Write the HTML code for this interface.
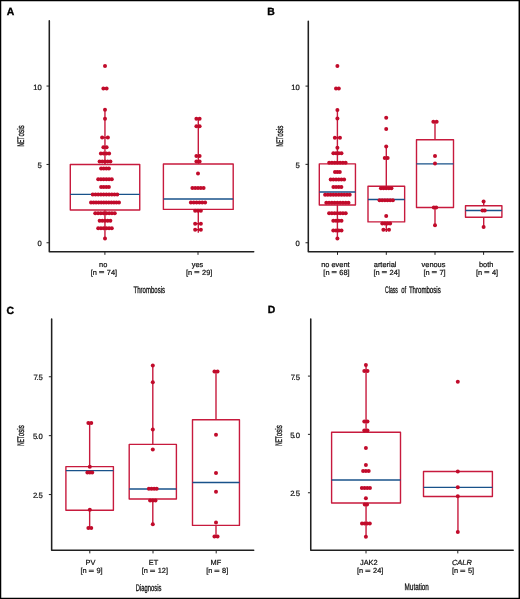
<!DOCTYPE html>
<html><head><meta charset="utf-8"><title>NETosis</title>
<style>
html,body{margin:0;padding:0;background:#fff;}
body{width:520px;height:599px;overflow:hidden;}
svg{display:block;will-change:transform;text-rendering:geometricPrecision;}
text{font-family:"Liberation Sans",sans-serif;fill:#111;}
.tl,.yl{stroke:#111;stroke-width:0.22px;}
.tl{font-size:7.4px;}
.nl{word-spacing:0.2px;}
.eq{font-weight:bold;}
.yl{font-size:7.7px;}
.tt{font-size:9.6px;stroke:#111;stroke-width:0.32px;}
.pl{font-size:10.4px;font-weight:bold;fill:#000;stroke:#000;stroke-width:0.35px;}
.ax{stroke:#202020;stroke-width:1.55;stroke-linejoin:round;stroke-linecap:round;}
.tk{stroke:#222;stroke-width:1;}
.bx{stroke:#c71a3d;stroke-width:1.4;stroke-linejoin:round;}
.md{stroke:#18528a;stroke-width:1.35;}
</style></head>
<body>
<svg width="520" height="599" viewBox="0 0 520 599">
<rect x="0" y="0" width="520" height="599" fill="#fff"/>
<text x="6.7" y="15.35" class="pl">A</text>
<path d="M49.3 20.8V251.65H253.7" class="ax" fill="none"/>
<line x1="46.5" y1="242.75" x2="49.3" y2="242.75" class="tk"/>
<line x1="46.5" y1="164.45" x2="49.3" y2="164.45" class="tk"/>
<line x1="46.5" y1="86.05" x2="49.3" y2="86.05" class="tk"/>
<line x1="104.9" y1="251.65" x2="104.9" y2="254.85" class="tk"/>
<line x1="198" y1="251.65" x2="198" y2="254.85" class="tk"/>
<text x="41.8" y="246.35" text-anchor="end" class="yl">0</text>
<text x="41.8" y="168.05" text-anchor="end" class="yl">5</text>
<text x="41.8" y="89.65" text-anchor="end" class="yl">10</text>
<text x="103.15" y="266.6" text-anchor="middle" class="tl">no</text>
<text x="90.82" y="274.55" class="tl">[n</text>
<rect x="99.09" y="271.05" width="5.0" height="0.85" fill="#2a2a2a"/><rect x="99.09" y="272.3" width="5.0" height="0.85" fill="#2a2a2a"/>
<text x="106.79" y="274.55" class="tl">74]</text>
<text x="197.5" y="266.6" text-anchor="middle" class="tl">yes</text>
<text x="186.07" y="274.55" class="tl">[n</text>
<rect x="194.34" y="271.05" width="5.0" height="0.85" fill="#2a2a2a"/><rect x="194.34" y="272.3" width="5.0" height="0.85" fill="#2a2a2a"/>
<text x="202.04" y="274.55" class="tl">29]</text>
<text x="133.6" y="293" textLength="31.4" lengthAdjust="spacingAndGlyphs" class="tt">Thrombosis</text>
<g transform="translate(23.6,146.5) rotate(-90)"><text x="0" y="0" textLength="9.86" lengthAdjust="spacingAndGlyphs" class="tt">NET</text><text x="9.96" y="0" textLength="11.24" lengthAdjust="spacingAndGlyphs" class="tt">osis</text></g>
<line x1="104.95" y1="109.8" x2="104.95" y2="164.45" class="bx"/>
<line x1="104.95" y1="210.05" x2="104.95" y2="238.4" class="bx"/>
<rect x="70.3" y="164.45" width="69.45" height="45.6" class="bx" fill="none"/>
<line x1="70.3" y1="194.4" x2="139.75" y2="194.4" class="md"/>
<line x1="198.3" y1="118.7" x2="198.3" y2="164" class="bx"/>
<line x1="198.3" y1="209.4" x2="198.3" y2="232.8" class="bx"/>
<rect x="163.4" y="164" width="69.8" height="45.4" class="bx" fill="none"/>
<line x1="163.4" y1="199" x2="233.2" y2="199" class="md"/>
<text x="267.2" y="15.3" class="pl">B</text>
<path d="M308.3 21.2V251.65H513" class="ax" fill="none"/>
<line x1="305.5" y1="242.75" x2="308.3" y2="242.75" class="tk"/>
<line x1="305.5" y1="164.35" x2="308.3" y2="164.35" class="tk"/>
<line x1="305.5" y1="86.1" x2="308.3" y2="86.1" class="tk"/>
<line x1="337.5" y1="251.65" x2="337.5" y2="254.85" class="tk"/>
<line x1="386.3" y1="251.65" x2="386.3" y2="254.85" class="tk"/>
<line x1="435" y1="251.65" x2="435" y2="254.85" class="tk"/>
<line x1="483.6" y1="251.65" x2="483.6" y2="254.85" class="tk"/>
<text x="299.8" y="246.35" text-anchor="end" class="yl">0</text>
<text x="299.8" y="167.95" text-anchor="end" class="yl">5</text>
<text x="299.8" y="89.7" text-anchor="end" class="yl">10</text>
<text x="335.4" y="266.6" text-anchor="middle" class="tl">no event</text>
<text x="323.37" y="274.55" class="tl">[n</text>
<rect x="331.64" y="271.05" width="5.0" height="0.85" fill="#2a2a2a"/><rect x="331.64" y="272.3" width="5.0" height="0.85" fill="#2a2a2a"/>
<text x="339.34" y="274.55" class="tl">68]</text>
<text x="385.1" y="266.6" text-anchor="middle" class="tl">arterial</text>
<text x="373.57" y="274.55" class="tl">[n</text>
<rect x="381.84" y="271.05" width="5.0" height="0.85" fill="#2a2a2a"/><rect x="381.84" y="272.3" width="5.0" height="0.85" fill="#2a2a2a"/>
<text x="389.54" y="274.55" class="tl">24]</text>
<text x="433.5" y="266.6" text-anchor="middle" class="tl">venous</text>
<text x="423.53" y="274.55" class="tl">[n</text>
<rect x="431.8" y="271.05" width="5.0" height="0.85" fill="#2a2a2a"/><rect x="431.8" y="272.3" width="5.0" height="0.85" fill="#2a2a2a"/>
<text x="439.5" y="274.55" class="tl">7]</text>
<text x="486.2" y="266.6" text-anchor="middle" class="tl">both</text>
<text x="476.03" y="274.55" class="tl">[n</text>
<rect x="484.3" y="271.05" width="5.0" height="0.85" fill="#2a2a2a"/><rect x="484.3" y="272.3" width="5.0" height="0.85" fill="#2a2a2a"/>
<text x="492" y="274.55" class="tl">4]</text>
<text x="385.1" y="293" textLength="12.8" lengthAdjust="spacingAndGlyphs" class="tt">Class</text>
<text x="401.2" y="293" textLength="4.9" lengthAdjust="spacingAndGlyphs" class="tt">of</text>
<text x="408.9" y="293" textLength="31.8" lengthAdjust="spacingAndGlyphs" class="tt">Thrombosis</text>
<g transform="translate(282.6,146.6) rotate(-90)"><text x="0" y="0" textLength="9.77" lengthAdjust="spacingAndGlyphs" class="tt">NET</text><text x="9.87" y="0" textLength="11.13" lengthAdjust="spacingAndGlyphs" class="tt">osis</text></g>
<line x1="337.4" y1="109.9" x2="337.4" y2="163.85" class="bx"/>
<line x1="337.4" y1="204.95" x2="337.4" y2="238.5" class="bx"/>
<rect x="319.3" y="163.85" width="36.15" height="41.1" class="bx" fill="none"/>
<line x1="319.3" y1="191.95" x2="355.45" y2="191.95" class="md"/>
<line x1="386.3" y1="146.4" x2="386.3" y2="186.2" class="bx"/>
<line x1="386.3" y1="221.9" x2="386.3" y2="232" class="bx"/>
<rect x="368" y="186.2" width="36.65" height="35.7" class="bx" fill="none"/>
<line x1="368" y1="199.5" x2="404.65" y2="199.5" class="md"/>
<line x1="435" y1="121.7" x2="435" y2="139.8" class="bx"/>
<line x1="435" y1="207.5" x2="435" y2="225.2" class="bx"/>
<rect x="416.5" y="139.8" width="37" height="67.7" class="bx" fill="none"/>
<line x1="416.5" y1="163.9" x2="453.5" y2="163.9" class="md"/>
<line x1="483.7" y1="201.5" x2="483.7" y2="205.8" class="bx"/>
<line x1="483.7" y1="217.2" x2="483.7" y2="227" class="bx"/>
<rect x="465.5" y="205.8" width="36.4" height="11.4" class="bx" fill="none"/>
<line x1="465.5" y1="210.5" x2="501.9" y2="210.5" class="md"/>
<text x="6.6" y="313.6" class="pl">C</text>
<path d="M51.65 319V550.2H253.7" class="ax" fill="none"/>
<line x1="48.85" y1="376.75" x2="51.65" y2="376.75" class="tk"/>
<line x1="48.85" y1="435.65" x2="51.65" y2="435.65" class="tk"/>
<line x1="48.85" y1="494.55" x2="51.65" y2="494.55" class="tk"/>
<line x1="89.8" y1="550.2" x2="89.8" y2="553.4" class="tk"/>
<line x1="153" y1="550.2" x2="153" y2="553.4" class="tk"/>
<line x1="216.2" y1="550.2" x2="216.2" y2="553.4" class="tk"/>
<text x="42.8" y="380.35" text-anchor="end" class="yl">7<tspan dx="-1.4">.</tspan>5</text>
<text x="42.8" y="439.25" text-anchor="end" class="yl">5<tspan dx="-1.0">.</tspan>0</text>
<text x="42.8" y="498.15" text-anchor="end" class="yl">2<tspan dx="-1.0">.</tspan>5</text>
<text x="90.5" y="565.3" text-anchor="middle" class="tl">PV</text>
<text x="80.53" y="573.25" class="tl">[n</text>
<rect x="88.8" y="569.75" width="5.0" height="0.85" fill="#2a2a2a"/><rect x="88.8" y="571" width="5.0" height="0.85" fill="#2a2a2a"/>
<text x="96.5" y="573.25" class="tl">9]</text>
<text x="153.6" y="565.3" text-anchor="middle" class="tl">ET</text>
<text x="141.77" y="573.25" class="tl">[n</text>
<rect x="150.04" y="569.75" width="5.0" height="0.85" fill="#2a2a2a"/><rect x="150.04" y="571" width="5.0" height="0.85" fill="#2a2a2a"/>
<text x="157.74" y="573.25" class="tl">12]</text>
<text x="215.9" y="565.3" text-anchor="middle" class="tl">MF</text>
<text x="206.13" y="573.25" class="tl">[n</text>
<rect x="214.4" y="569.75" width="5.0" height="0.85" fill="#2a2a2a"/><rect x="214.4" y="571" width="5.0" height="0.85" fill="#2a2a2a"/>
<text x="222.1" y="573.25" class="tl">8]</text>
<text x="135.8" y="590.5" textLength="25.6" lengthAdjust="spacingAndGlyphs" class="tt">Diagnosis</text>
<g transform="translate(23.6,445.8) rotate(-90)"><text x="0" y="0" textLength="9.58" lengthAdjust="spacingAndGlyphs" class="tt">NET</text><text x="9.68" y="0" textLength="10.92" lengthAdjust="spacingAndGlyphs" class="tt">osis</text></g>
<line x1="89.65" y1="422.9" x2="89.65" y2="466.6" class="bx"/>
<line x1="89.65" y1="510.3" x2="89.65" y2="528" class="bx"/>
<rect x="65.9" y="466.6" width="47.5" height="43.7" class="bx" fill="none"/>
<line x1="65.9" y1="470.6" x2="113.4" y2="470.6" class="md"/>
<line x1="152.8" y1="365.4" x2="152.8" y2="444.4" class="bx"/>
<line x1="152.8" y1="499" x2="152.8" y2="524.2" class="bx"/>
<rect x="129.2" y="444.4" width="47.2" height="54.6" class="bx" fill="none"/>
<line x1="129.2" y1="489" x2="176.4" y2="489" class="md"/>
<line x1="216" y1="371.5" x2="216" y2="419.8" class="bx"/>
<line x1="216" y1="525.4" x2="216" y2="536.6" class="bx"/>
<rect x="192.5" y="419.8" width="46.95" height="105.6" class="bx" fill="none"/>
<line x1="192.5" y1="482.45" x2="239.45" y2="482.45" class="md"/>
<text x="267.8" y="313.4" class="pl">D</text>
<path d="M310.75 318.9V550.2H513.2" class="ax" fill="none"/>
<line x1="307.95" y1="376.1" x2="310.75" y2="376.1" class="tk"/>
<line x1="307.95" y1="434.35" x2="310.75" y2="434.35" class="tk"/>
<line x1="307.95" y1="492.75" x2="310.75" y2="492.75" class="tk"/>
<line x1="366" y1="550.2" x2="366" y2="553.4" class="tk"/>
<line x1="457.8" y1="550.2" x2="457.8" y2="553.4" class="tk"/>
<text x="300" y="379.7" text-anchor="end" class="yl">7<tspan dx="-1.4">.</tspan>5</text>
<text x="300" y="437.95" text-anchor="end" class="yl">5<tspan dx="-1.0">.</tspan>0</text>
<text x="300" y="496.35" text-anchor="end" class="yl">2<tspan dx="-1.0">.</tspan>5</text>
<text x="368.8" y="565.3" text-anchor="middle" class="tl">JAK2</text>
<text x="357.07" y="573.25" class="tl">[n</text>
<rect x="365.34" y="569.75" width="5.0" height="0.85" fill="#2a2a2a"/><rect x="365.34" y="571" width="5.0" height="0.85" fill="#2a2a2a"/>
<text x="373.04" y="573.25" class="tl">24]</text>
<text x="461.9" y="565.3" text-anchor="middle" class="tl"><tspan font-style="italic">CALR</tspan></text>
<text x="451.93" y="573.25" class="tl">[n</text>
<rect x="460.2" y="569.75" width="5.0" height="0.85" fill="#2a2a2a"/><rect x="460.2" y="571" width="5.0" height="0.85" fill="#2a2a2a"/>
<text x="467.9" y="573.25" class="tl">5]</text>
<text x="404.6" y="590.3" textLength="24.3" lengthAdjust="spacingAndGlyphs" class="tt">Mutation</text>
<g transform="translate(281.6,445.8) rotate(-90)"><text x="0" y="0" textLength="9.58" lengthAdjust="spacingAndGlyphs" class="tt">NET</text><text x="9.68" y="0" textLength="10.92" lengthAdjust="spacingAndGlyphs" class="tt">osis</text></g>
<line x1="366.05" y1="365.1" x2="366.05" y2="432.3" class="bx"/>
<line x1="366.05" y1="503" x2="366.05" y2="536.8" class="bx"/>
<rect x="331.6" y="432.3" width="68.9" height="70.7" class="bx" fill="none"/>
<line x1="331.6" y1="480" x2="400.5" y2="480" class="md"/>
<line x1="457.95" y1="496.45" x2="457.95" y2="531.9" class="bx"/>
<rect x="423.5" y="471.45" width="68.9" height="25" class="bx" fill="none"/>
<line x1="423.5" y1="487.4" x2="492.4" y2="487.4" class="md"/>
<g fill="#c10b2b">
<circle cx="105" cy="66" r="2.0"/>
<circle cx="103.4" cy="88.5" r="2.0"/>
<circle cx="106.6" cy="88.5" r="2.0"/>
<circle cx="105" cy="109.8" r="2.0"/>
<circle cx="105" cy="118.7" r="2.0"/>
<circle cx="102.15" cy="137.6" r="2.0"/><circle cx="107.85" cy="137.6" r="2.0"/><rect x="102.15" y="136.85" width="5.7" height="1.5"/>
<circle cx="103.4" cy="147.2" r="2.0"/>
<circle cx="106.6" cy="147.2" r="2.0"/>
<circle cx="100.9" cy="153.5" r="2.0"/>
<circle cx="103.63" cy="153.5" r="2.0"/>
<circle cx="106.37" cy="153.5" r="2.0"/>
<circle cx="109.1" cy="153.5" r="2.0"/>
<circle cx="99.6" cy="161.4" r="2.0"/>
<circle cx="102.3" cy="161.4" r="2.0"/>
<circle cx="105" cy="161.4" r="2.0"/>
<circle cx="107.7" cy="161.4" r="2.0"/>
<circle cx="110.4" cy="161.4" r="2.0"/>
<circle cx="101.1" cy="168.6" r="2.0"/>
<circle cx="103.7" cy="168.6" r="2.0"/>
<circle cx="106.3" cy="168.6" r="2.0"/>
<circle cx="108.9" cy="168.6" r="2.0"/>
<circle cx="98.2" cy="179.2" r="2.0"/>
<circle cx="100.92" cy="179.2" r="2.0"/>
<circle cx="103.64" cy="179.2" r="2.0"/>
<circle cx="106.36" cy="179.2" r="2.0"/>
<circle cx="109.08" cy="179.2" r="2.0"/>
<circle cx="111.8" cy="179.2" r="2.0"/>
<circle cx="101.1" cy="187.1" r="2.0"/>
<circle cx="103.7" cy="187.1" r="2.0"/>
<circle cx="106.3" cy="187.1" r="2.0"/>
<circle cx="108.9" cy="187.1" r="2.0"/>
<circle cx="92.75" cy="194.6" r="2.0"/>
<circle cx="95.47" cy="194.6" r="2.0"/>
<circle cx="98.19" cy="194.6" r="2.0"/>
<circle cx="100.92" cy="194.6" r="2.0"/>
<circle cx="103.64" cy="194.6" r="2.0"/>
<circle cx="106.36" cy="194.6" r="2.0"/>
<circle cx="109.08" cy="194.6" r="2.0"/>
<circle cx="111.81" cy="194.6" r="2.0"/>
<circle cx="114.53" cy="194.6" r="2.0"/>
<circle cx="117.25" cy="194.6" r="2.0"/>
<circle cx="91" cy="202.5" r="2.0"/>
<circle cx="93.55" cy="202.5" r="2.0"/>
<circle cx="96.09" cy="202.5" r="2.0"/>
<circle cx="98.64" cy="202.5" r="2.0"/>
<circle cx="101.18" cy="202.5" r="2.0"/>
<circle cx="103.73" cy="202.5" r="2.0"/>
<circle cx="106.27" cy="202.5" r="2.0"/>
<circle cx="108.82" cy="202.5" r="2.0"/>
<circle cx="111.36" cy="202.5" r="2.0"/>
<circle cx="113.91" cy="202.5" r="2.0"/>
<circle cx="116.45" cy="202.5" r="2.0"/>
<circle cx="119" cy="202.5" r="2.0"/>
<circle cx="95.25" cy="213.2" r="2.0"/>
<circle cx="98.04" cy="213.2" r="2.0"/>
<circle cx="100.82" cy="213.2" r="2.0"/>
<circle cx="103.61" cy="213.2" r="2.0"/>
<circle cx="106.39" cy="213.2" r="2.0"/>
<circle cx="109.18" cy="213.2" r="2.0"/>
<circle cx="111.96" cy="213.2" r="2.0"/>
<circle cx="114.75" cy="213.2" r="2.0"/>
<circle cx="99.65" cy="220.7" r="2.0"/>
<circle cx="102.33" cy="220.7" r="2.0"/>
<circle cx="105" cy="220.7" r="2.0"/>
<circle cx="107.68" cy="220.7" r="2.0"/>
<circle cx="110.35" cy="220.7" r="2.0"/>
<circle cx="98.2" cy="228.2" r="2.0"/>
<circle cx="100.92" cy="228.2" r="2.0"/>
<circle cx="103.64" cy="228.2" r="2.0"/>
<circle cx="106.36" cy="228.2" r="2.0"/>
<circle cx="109.08" cy="228.2" r="2.0"/>
<circle cx="111.8" cy="228.2" r="2.0"/>
<circle cx="105" cy="238.4" r="2.0"/>
<circle cx="196.4" cy="118.7" r="2.0"/>
<circle cx="199.6" cy="118.7" r="2.0"/>
<circle cx="196.4" cy="126.3" r="2.0"/>
<circle cx="199.6" cy="126.3" r="2.0"/>
<circle cx="196.4" cy="155.9" r="2.0"/>
<circle cx="199.6" cy="155.9" r="2.0"/>
<circle cx="196.4" cy="161.6" r="2.0"/>
<circle cx="199.6" cy="161.6" r="2.0"/>
<circle cx="198" cy="173.4" r="2.0"/>
<circle cx="192.4" cy="188" r="2.0"/>
<circle cx="195.2" cy="188" r="2.0"/>
<circle cx="198" cy="188" r="2.0"/>
<circle cx="200.8" cy="188" r="2.0"/>
<circle cx="203.6" cy="188" r="2.0"/>
<circle cx="190.9" cy="202.6" r="2.0"/>
<circle cx="193.74" cy="202.6" r="2.0"/>
<circle cx="196.58" cy="202.6" r="2.0"/>
<circle cx="199.42" cy="202.6" r="2.0"/>
<circle cx="202.26" cy="202.6" r="2.0"/>
<circle cx="205.1" cy="202.6" r="2.0"/>
<circle cx="195.15" cy="210.8" r="2.0"/>
<circle cx="198" cy="210.8" r="2.0"/>
<circle cx="200.85" cy="210.8" r="2.0"/>
<circle cx="195.15" cy="223.7" r="2.0"/><circle cx="200.85" cy="223.7" r="2.0"/><rect x="195.15" y="222.95" width="5.7" height="1.5"/>
<circle cx="195.15" cy="229.7" r="2.0"/><circle cx="200.85" cy="229.7" r="2.0"/><rect x="195.15" y="228.95" width="5.7" height="1.5"/>
<circle cx="337.4" cy="66" r="2.0"/>
<circle cx="336" cy="88.4" r="2.0"/>
<circle cx="338.8" cy="88.4" r="2.0"/>
<circle cx="337.4" cy="109.9" r="2.0"/>
<circle cx="337.4" cy="118.6" r="2.0"/>
<circle cx="334.85" cy="137.7" r="2.0"/><circle cx="339.95" cy="137.7" r="2.0"/><rect x="334.85" y="136.95" width="5.1" height="1.5"/>
<circle cx="337.4" cy="147.8" r="2.0"/>
<circle cx="333.35" cy="153.2" r="2.0"/>
<circle cx="336.05" cy="153.2" r="2.0"/>
<circle cx="338.75" cy="153.2" r="2.0"/>
<circle cx="341.45" cy="153.2" r="2.0"/>
<circle cx="329.2" cy="162.7" r="2.0"/>
<circle cx="331.93" cy="162.7" r="2.0"/>
<circle cx="334.67" cy="162.7" r="2.0"/>
<circle cx="337.4" cy="162.7" r="2.0"/>
<circle cx="340.13" cy="162.7" r="2.0"/>
<circle cx="342.87" cy="162.7" r="2.0"/>
<circle cx="345.6" cy="162.7" r="2.0"/>
<circle cx="335" cy="172" r="2.0"/>
<circle cx="337.4" cy="172" r="2.0"/>
<circle cx="339.8" cy="172" r="2.0"/>
<circle cx="330.7" cy="179.4" r="2.0"/>
<circle cx="333.38" cy="179.4" r="2.0"/>
<circle cx="336.06" cy="179.4" r="2.0"/>
<circle cx="338.74" cy="179.4" r="2.0"/>
<circle cx="341.42" cy="179.4" r="2.0"/>
<circle cx="344.1" cy="179.4" r="2.0"/>
<circle cx="333.4" cy="187.1" r="2.0"/>
<circle cx="336.07" cy="187.1" r="2.0"/>
<circle cx="338.73" cy="187.1" r="2.0"/>
<circle cx="341.4" cy="187.1" r="2.0"/>
<circle cx="325.1" cy="194.7" r="2.0"/>
<circle cx="327.83" cy="194.7" r="2.0"/>
<circle cx="330.57" cy="194.7" r="2.0"/>
<circle cx="333.3" cy="194.7" r="2.0"/>
<circle cx="336.03" cy="194.7" r="2.0"/>
<circle cx="338.77" cy="194.7" r="2.0"/>
<circle cx="341.5" cy="194.7" r="2.0"/>
<circle cx="344.23" cy="194.7" r="2.0"/>
<circle cx="346.97" cy="194.7" r="2.0"/>
<circle cx="349.7" cy="194.7" r="2.0"/>
<circle cx="326.3" cy="202.7" r="2.0"/>
<circle cx="329.07" cy="202.7" r="2.0"/>
<circle cx="331.85" cy="202.7" r="2.0"/>
<circle cx="334.62" cy="202.7" r="2.0"/>
<circle cx="337.4" cy="202.7" r="2.0"/>
<circle cx="340.17" cy="202.7" r="2.0"/>
<circle cx="342.95" cy="202.7" r="2.0"/>
<circle cx="345.72" cy="202.7" r="2.0"/>
<circle cx="348.5" cy="202.7" r="2.0"/>
<circle cx="329.1" cy="213.2" r="2.0"/>
<circle cx="331.87" cy="213.2" r="2.0"/>
<circle cx="334.63" cy="213.2" r="2.0"/>
<circle cx="337.4" cy="213.2" r="2.0"/>
<circle cx="340.17" cy="213.2" r="2.0"/>
<circle cx="342.93" cy="213.2" r="2.0"/>
<circle cx="345.7" cy="213.2" r="2.0"/>
<circle cx="333.3" cy="220.8" r="2.0"/>
<circle cx="336.03" cy="220.8" r="2.0"/>
<circle cx="338.77" cy="220.8" r="2.0"/>
<circle cx="341.5" cy="220.8" r="2.0"/>
<circle cx="333.3" cy="230.5" r="2.0"/>
<circle cx="336.03" cy="230.5" r="2.0"/>
<circle cx="338.77" cy="230.5" r="2.0"/>
<circle cx="341.5" cy="230.5" r="2.0"/>
<circle cx="337.4" cy="238.5" r="2.0"/>
<circle cx="386.2" cy="117.8" r="2.0"/>
<circle cx="386.2" cy="128.9" r="2.0"/>
<circle cx="386.2" cy="146.4" r="2.0"/>
<circle cx="384.75" cy="158" r="2.0"/>
<circle cx="387.65" cy="158" r="2.0"/>
<circle cx="380.95" cy="188.2" r="2.0"/>
<circle cx="383.57" cy="188.2" r="2.0"/>
<circle cx="386.2" cy="188.2" r="2.0"/>
<circle cx="388.82" cy="188.2" r="2.0"/>
<circle cx="391.45" cy="188.2" r="2.0"/>
<circle cx="379.55" cy="200.2" r="2.0"/>
<circle cx="382.21" cy="200.2" r="2.0"/>
<circle cx="384.87" cy="200.2" r="2.0"/>
<circle cx="387.53" cy="200.2" r="2.0"/>
<circle cx="390.19" cy="200.2" r="2.0"/>
<circle cx="392.85" cy="200.2" r="2.0"/>
<circle cx="386.2" cy="216" r="2.0"/>
<circle cx="382.3" cy="223.5" r="2.0"/>
<circle cx="384.9" cy="223.5" r="2.0"/>
<circle cx="387.5" cy="223.5" r="2.0"/>
<circle cx="390.1" cy="223.5" r="2.0"/>
<circle cx="383.4" cy="229.7" r="2.0"/><circle cx="389" cy="229.7" r="2.0"/><rect x="383.4" y="228.95" width="5.6" height="1.5"/>
<circle cx="433.35" cy="121.7" r="2.0"/>
<circle cx="436.65" cy="121.7" r="2.0"/>
<circle cx="435" cy="155.9" r="2.0"/>
<circle cx="435" cy="163.5" r="2.0"/>
<circle cx="433.8" cy="207.5" r="2.0"/>
<circle cx="436.2" cy="207.5" r="2.0"/>
<circle cx="435" cy="225.2" r="2.0"/>
<circle cx="483.6" cy="201.5" r="2.0"/>
<circle cx="482.5" cy="210.4" r="2.0"/>
<circle cx="484.7" cy="210.4" r="2.0"/>
<circle cx="483.6" cy="227" r="2.0"/>
<circle cx="88.35" cy="422.9" r="2.0"/>
<circle cx="91.25" cy="422.9" r="2.0"/>
<circle cx="89.8" cy="466.7" r="2.0"/>
<circle cx="87.4" cy="472.5" r="2.0"/>
<circle cx="89.8" cy="472.5" r="2.0"/>
<circle cx="92.2" cy="472.5" r="2.0"/>
<circle cx="89.8" cy="509.8" r="2.0"/>
<circle cx="88.35" cy="528" r="2.0"/>
<circle cx="91.25" cy="528" r="2.0"/>
<circle cx="152.8" cy="365.4" r="2.0"/>
<circle cx="152.8" cy="382.2" r="2.0"/>
<circle cx="152.8" cy="429.4" r="2.0"/>
<circle cx="152.8" cy="449.4" r="2.0"/>
<circle cx="148.9" cy="488.8" r="2.0"/>
<circle cx="151.5" cy="488.8" r="2.0"/>
<circle cx="154.1" cy="488.8" r="2.0"/>
<circle cx="156.7" cy="488.8" r="2.0"/>
<circle cx="150.1" cy="500.6" r="2.0"/>
<circle cx="152.8" cy="500.6" r="2.0"/>
<circle cx="155.5" cy="500.6" r="2.0"/>
<circle cx="152.8" cy="524.2" r="2.0"/>
<circle cx="214.45" cy="371.5" r="2.0"/>
<circle cx="217.55" cy="371.5" r="2.0"/>
<circle cx="216" cy="434.8" r="2.0"/>
<circle cx="216" cy="473.1" r="2.0"/>
<circle cx="216" cy="491.7" r="2.0"/>
<circle cx="216" cy="522.4" r="2.0"/>
<circle cx="214.45" cy="536.6" r="2.0"/>
<circle cx="217.55" cy="536.6" r="2.0"/>
<circle cx="365.9" cy="365.1" r="2.0"/>
<circle cx="364.3" cy="370.9" r="2.0"/>
<circle cx="367.5" cy="370.9" r="2.0"/>
<circle cx="364.3" cy="421.6" r="2.0"/>
<circle cx="367.5" cy="421.6" r="2.0"/>
<circle cx="364.3" cy="430.4" r="2.0"/>
<circle cx="367.5" cy="430.4" r="2.0"/>
<circle cx="365.9" cy="448.1" r="2.0"/>
<circle cx="365.9" cy="465" r="2.0"/>
<circle cx="363.1" cy="471" r="2.0"/>
<circle cx="365.9" cy="471" r="2.0"/>
<circle cx="368.7" cy="471" r="2.0"/>
<circle cx="361.85" cy="488" r="2.0"/>
<circle cx="364.55" cy="488" r="2.0"/>
<circle cx="367.25" cy="488" r="2.0"/>
<circle cx="369.95" cy="488" r="2.0"/>
<circle cx="365.9" cy="498.3" r="2.0"/>
<circle cx="364.75" cy="504.6" r="2.0"/>
<circle cx="367.05" cy="504.6" r="2.0"/>
<circle cx="362" cy="523.5" r="2.0"/>
<circle cx="364.6" cy="523.5" r="2.0"/>
<circle cx="367.2" cy="523.5" r="2.0"/>
<circle cx="369.8" cy="523.5" r="2.0"/>
<circle cx="365.9" cy="536.8" r="2.0"/>
<circle cx="457.8" cy="381.7" r="2.0"/>
<circle cx="457.8" cy="471.4" r="2.0"/>
<circle cx="457.8" cy="487.3" r="2.0"/>
<circle cx="457.8" cy="496.3" r="2.0"/>
<circle cx="457.8" cy="531.9" r="2.0"/>
</g>
<rect x="0" y="0" width="1.25" height="599" fill="#000"/>
<rect x="0" y="0" width="520" height="1.25" fill="#000"/>
<rect x="518.55" y="0" width="1.45" height="599" fill="#000"/>
<rect x="0" y="597.75" width="520" height="1.25" fill="#000"/>
</svg>
</body></html>
